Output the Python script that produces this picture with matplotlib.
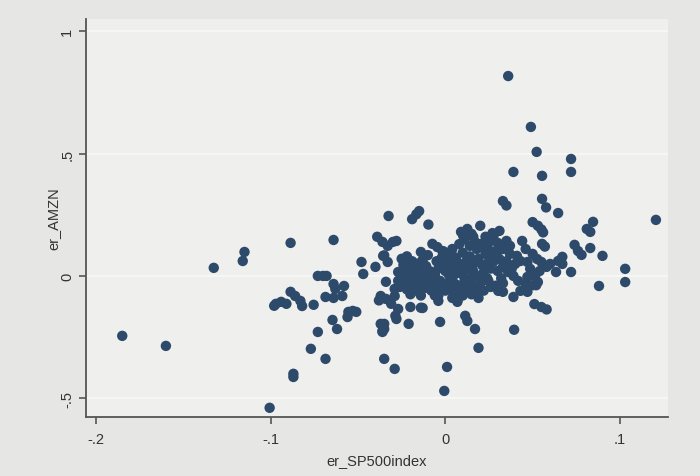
import matplotlib.pyplot as plt
import numpy as np

plt.rcParams['font.family'] = ['Liberation Sans', 'DejaVu Sans']

# excess returns: sparse points around the edges
edge_x = [-0.185, -0.160, -0.1326, -0.115, -0.116, -0.1006, -0.0886, -0.087, -0.087,
          -0.097, -0.094, -0.091, -0.098, -0.0886, -0.086, -0.083, -0.082, -0.0754,
          -0.073, -0.070, -0.068, -0.064, -0.063, -0.064, -0.058, -0.0686, -0.064,
          -0.059, -0.0555, -0.053, -0.051, -0.056, -0.0646, -0.062, -0.073, -0.077,
          -0.0686, -0.048, -0.047, -0.040, -0.039, -0.036, -0.033, -0.030, -0.028,
          -0.0356, -0.035, -0.033, -0.034, -0.037, -0.034, -0.031, -0.038, -0.029,
          -0.0286, -0.037, -0.035, -0.036, -0.035, -0.029, -0.027, -0.027, -0.029,
          -0.0325, -0.019, -0.0166, -0.015, -0.0097, -0.014, -0.0074, -0.0046, -0.0017,
          -0.021, -0.013, -0.027, -0.028, -0.020, -0.035, -0.036, -0.004, -0.004,
          0.0069, -0.003, 0.001, -0.0006, -0.014, 0.0114, 0.0126, 0.017, 0.019,
          0.0394, 0.020, 0.036, 0.049, 0.0523, 0.039, 0.0554, 0.072, 0.072, 0.033,
          0.035, 0.0554, 0.0577, 0.0646, 0.1206, 0.0846, 0.081, 0.083, 0.050, 0.053,
          0.055, 0.056, 0.0554, 0.057, 0.074, 0.076, 0.078, 0.083, 0.090, 0.0646,
          0.067, 0.067, 0.0634, 0.072, 0.055, 0.103, 0.103, 0.088, 0.051, 0.055,
          0.058, 0.046, 0.050, 0.052, 0.039, 0.043, 0.047]
edge_y = [-0.245, -0.286, 0.033, 0.098, 0.061, -0.539, 0.135, -0.400, -0.413,
          -0.114, -0.106, -0.114, -0.122, -0.065, -0.082, -0.102, -0.123, -0.118,
          0.000, 0.000, 0.000, -0.033, -0.053, 0.147, -0.041, -0.086, -0.090,
          -0.082, -0.147, -0.143, -0.147, -0.168, -0.180, -0.217, -0.229, -0.298,
          -0.339, 0.057, 0.008, 0.037, 0.160, 0.139, 0.123, 0.139, 0.143,
          0.082, 0.084, 0.057, -0.024, -0.082, -0.094, -0.114, -0.100, -0.082,
          -0.163, -0.196, -0.217, -0.229, -0.339, -0.380, 0.016, -0.020, -0.053,
          0.245, 0.232, 0.252, 0.265, 0.210, 0.098, 0.131, 0.118, 0.102,
          -0.196, -0.131, -0.135, -0.176, -0.127, -0.196, -0.225, -0.102, -0.080,
          -0.106, -0.188, -0.372, -0.470, -0.130, -0.163, -0.184, -0.217, -0.294,
          -0.220, 0.205, 0.817, 0.609, 0.507, 0.425, 0.409, 0.478, 0.425, 0.306,
          0.288, 0.315, 0.280, 0.257, 0.229, 0.221, 0.192, 0.180, 0.220, 0.205,
          0.190, 0.178, 0.131, 0.120, 0.127, 0.102, 0.086, 0.114, 0.082, 0.061,
          0.078, 0.049, 0.016, 0.016, 0.057, 0.029, -0.025, -0.041, -0.115, -0.127,
          -0.137, -0.031, -0.038, -0.038, -0.086, -0.061, -0.065]

# dense cloud around the origin
core_x = [-0.025, -0.022, -0.019, -0.024, -0.020, -0.016, -0.013, -0.011, -0.023,
          -0.018, -0.014, -0.009, -0.025, -0.021, -0.017, -0.012, -0.008, -0.024,
          -0.019, -0.015, -0.011, -0.007, -0.022, -0.017, -0.012, -0.008, -0.020,
          -0.014, -0.006, -0.026, -0.010, -0.005, -0.004, -0.006, -0.003, -0.004,
          -0.001, 0.002, 0.004, 0.006, 0.001, 0.003, 0.005, 0.007, 0.009, 0.000,
          0.002, 0.004, 0.006, 0.008, 0.010, 0.012, 0.001, 0.003, 0.006, 0.008,
          0.011, 0.013, 0.015, 0.016, 0.018, 0.020, 0.017, 0.022, 0.024, 0.005,
          0.010, 0.004, 0.012, 0.014, 0.010, 0.016, 0.019, 0.021, 0.023, 0.025,
          0.008, 0.011, 0.013, 0.009, 0.016, 0.018, 0.020, 0.024, 0.026, 0.026,
          0.022, 0.015, 0.019, 0.007, 0.000, -0.002, -0.002, 0.028, 0.030, 0.032,
          0.029, 0.033, 0.035, 0.037, 0.028, 0.030, 0.033, 0.023, 0.027, 0.0126,
          0.015, 0.0103, 0.017, 0.020, 0.014, 0.031, 0.0276, 0.026, 0.035, 0.037,
          0.044, 0.046, 0.050, 0.0526, 0.0297, 0.031, 0.0274, 0.033, 0.036, 0.039,
          0.0417, 0.041, 0.043, 0.040, 0.038, 0.047, 0.0486, 0.0514, 0.053, 0.047,
          0.054, 0.058, 0.060, 0.0217, 0.0246, 0.0274, 0.0303, 0.033, 0.019, 0.016,
          0.013]
core_y = [0.070, 0.080, 0.060, 0.045, 0.035, 0.050, 0.065, 0.040, 0.020,
          0.015, 0.025, 0.020, -0.005, -0.010, -0.005, 0.000, -0.010, -0.030,
          -0.035, -0.025, -0.030, -0.035, -0.055, -0.060, -0.050, -0.060, -0.075,
          -0.080, -0.080, -0.045, 0.085, 0.060, 0.030, 0.005, -0.020, -0.050,
          0.100, 0.085, 0.110, 0.075, 0.060, 0.045, 0.030, 0.055, 0.040, 0.020,
          0.005, -0.010, 0.010, 0.020, 0.005, 0.025, -0.030, -0.045, -0.035, -0.050,
          -0.020, -0.040, -0.010, 0.020, 0.000, -0.030, -0.055, 0.015, -0.010, -0.070,
          -0.080, -0.090, 0.060, 0.080, 0.095, 0.050, 0.070, 0.045, 0.090, 0.060,
          0.130, 0.150, 0.170, 0.180, 0.160, 0.110, 0.130, 0.120, 0.030, -0.045,
          -0.060, -0.075, -0.090, -0.100, -0.060, 0.040, 0.075, 0.100, 0.020, -0.010,
          -0.040, -0.030, 0.060, 0.090, 0.075, 0.135, 0.110, 0.160, 0.175, 0.192,
          0.172, 0.163, 0.139, 0.123, 0.123, 0.184, 0.163, 0.143, 0.143, 0.123,
          0.143, 0.110, 0.090, 0.069, 0.098, 0.069, 0.057, 0.037, 0.016, 0.000,
          -0.020, 0.082, 0.061, 0.049, 0.029, 0.057, 0.029, 0.000, -0.025, -0.004,
          0.020, 0.037, 0.049, 0.000, -0.020, -0.041, -0.061, -0.065, -0.041, -0.045,
          -0.053]

x_ticks = [-0.2, -0.1, 0, 0.1]
x_labels = ['-.2', '-.1', '0', '.1']
y_ticks = [-0.5, 0, 0.5, 1]
y_labels = ['-.5', '0', '.5', '1']

er_sp = np.array(edge_x + core_x)
er_amzn = np.array(edge_y + core_y)

fig = plt.figure(figsize=(7, 4.77), dpi=100, facecolor='#e6e6e4')
ax = fig.add_axes([0.123, 0.124, 0.831, 0.834], facecolor='#efefed')

ax.scatter(er_sp, er_amzn, s=56, color='#2d4a6a', edgecolors='none', zorder=3)

ax.set_xlim(-0.2057, 0.1274)
ax.set_ylim(-0.576, 1.05)
ax.set_xticks(x_ticks)
ax.set_xticklabels(x_labels)
ax.set_yticks(y_ticks)
ax.set_yticklabels(y_labels, rotation=90, va='center')
ax.grid(axis='y', color='#f8f8f6', linewidth=1.2, zorder=0)
ax.tick_params(length=5, width=1.2, color='#555555', labelcolor='#333333', labelsize=10.5)
ax.tick_params(axis='x', pad=6)

for side in ['top', 'right']:
    ax.spines[side].set_visible(False)
for side in ['left', 'bottom']:
    ax.spines[side].set_color('#555555')
    ax.spines[side].set_linewidth(1.3)

ax.set_xlabel('er_SP500index', fontsize=10.5, color='#333333', labelpad=5)
ax.set_ylabel('er_AMZN', fontsize=10.5, color='#333333', labelpad=0)

fig.savefig('out.png', dpi=100, facecolor=fig.get_facecolor())
